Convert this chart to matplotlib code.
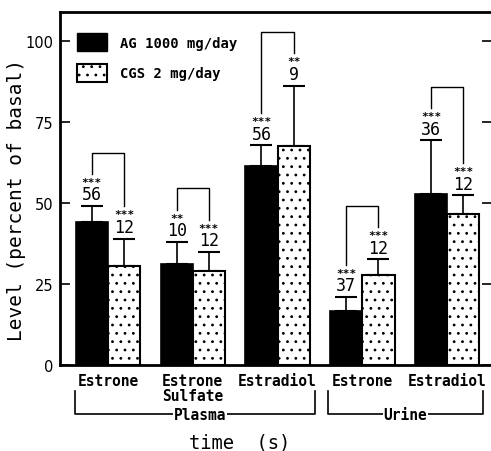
import matplotlib
matplotlib.use("Agg")
import matplotlib.pyplot as plt
import matplotlib.transforms as mtransforms
from matplotlib.patches import Patch

# data
categories = ["Estrone", "Estrone\nSulfate", "Estradiol", "Estrone", "Estradiol"]
ag_mean = [44.2, 31.3, 61.4, 16.6, 52.7]
ag_err = [4.9, 6.7, 6.5, 4.4, 16.7]
cgs_mean = [30.5, 29.0, 67.6, 27.9, 46.5]
cgs_err = [8.5, 5.9, 18.6, 4.7, 5.9]
ag_n = ["56", "10", "56", "37", "36"]
cgs_n = ["12", "12", "9", "12", "12"]
ag_sig = ["***", "**", "***", "***", "***"]
cgs_sig = ["***", "***", "**", "***", "***"]
groups = ["Plasma", "Urine"]
group_span = [(0, 2), (3, 4)]
yticks = [0, 25, 50, 75, 100]

mono = "DejaVu Sans Mono"
plt.rcParams['hatch.linewidth'] = 0.8

fig = plt.figure(figsize=(4.91, 4.52), dpi=100)
ax = fig.add_axes([60 / 491, 1 - 366 / 452, 432 / 491, 353 / 452])

x = list(range(len(categories)))
w = 0.38
xa = [i - w / 2 for i in x]
xc = [i + w / 2 for i in x]

ax.bar(xa, ag_mean, w, color="black", edgecolor="black", linewidth=1.2, zorder=2)
ax.bar(xc, cgs_mean, w, color="white", edgecolor="black", linewidth=1.5,
       hatch="..", zorder=2)

ax.errorbar(xa, ag_mean, yerr=[[0] * 5, ag_err], fmt="none", ecolor="black",
            elinewidth=1.2, capsize=8, capthick=1.5, zorder=1)
ax.errorbar(xc, cgs_mean, yerr=[[0] * 5, cgs_err], fmt="none", ecolor="black",
            elinewidth=1.2, capsize=8, capthick=1.5, zorder=1)

# n labels, significance stars and brackets
for i in x:
    tops = []
    for xp, m, e, n, s in [(xa[i], ag_mean[i], ag_err[i], ag_n[i], ag_sig[i]),
                           (xc[i], cgs_mean[i], cgs_err[i], cgs_n[i], cgs_sig[i])]:
        top = m + e
        ax.text(xp, top + 0.8, n, ha="center", va="bottom", fontsize=12,
                family=mono)
        ax.text(xp, top + 6.0, s, ha="center", va="bottom", fontsize=8,
                family=mono, fontweight="bold")
        tops.append(top + 10)
    bt = max(tops) + 6.5
    ax.plot([xa[i], xa[i], xc[i], xc[i]], [tops[0], bt, bt, tops[1]],
            color="black", lw=1.0)

ax.set_xlim(-0.567, 4.53)
ax.set_ylim(0, 109)
ax.set_yticks(yticks)
ax.set_yticklabels([str(t) for t in yticks], fontsize=10.5)
ax.tick_params(axis="y", direction="in", length=7, width=1.2, right=True, pad=5)
ax.set_xticks(x)
ax.set_xticklabels(categories, family=mono, fontsize=10.5, fontweight="bold",
                   linespacing=0.95)
ax.tick_params(axis="x", length=0, pad=6)
for sp in ax.spines.values():
    sp.set_linewidth(2)

ax.set_ylabel("Level (percent of basal)", fontsize=14, family=mono)
ax.yaxis.set_label_coords(-0.078, 0.47)
fig.text(240 / 491, 1 - 443 / 452, "time  (s)", ha="center", va="center",
         fontsize=13.5, family=mono)

# tissue brackets below the axis
trans = mtransforms.blended_transform_factory(ax.transData, ax.transAxes)
for name, (a, b) in zip(groups, group_span):
    x0 = a - 0.39 if a == 0 else a - 0.40
    x1 = b + 0.44 if b == 2 else b + 0.42
    ax.plot([x0, x0, x1, x1], [-0.074, -0.139, -0.139, -0.074], color="black",
            lw=1.2, transform=trans, clip_on=False)
    ax.text((x0 + x1) / 2 + (0.06 if a == 0 else 0), -0.139, name,
            ha="center", va="center", family=mono, fontsize=10.5,
            fontweight="bold", transform=trans,
            bbox=dict(facecolor="white", edgecolor="none", pad=0.5))

handles = [Patch(facecolor="black", edgecolor="black"),
           Patch(facecolor="white", edgecolor="black", hatch="..", linewidth=1.5)]
ax.legend(handles, ["AG 1000 mg/day", "CGS 2 mg/day"], loc="upper left",
          bbox_to_anchor=(0.01, 0.975), frameon=False, handlelength=2.2,
          handleheight=1.6, labelspacing=0.9, handletextpad=0.9,
          prop={"family": mono, "size": 10, "weight": "bold"})

fig.savefig("out.png", dpi=100)
